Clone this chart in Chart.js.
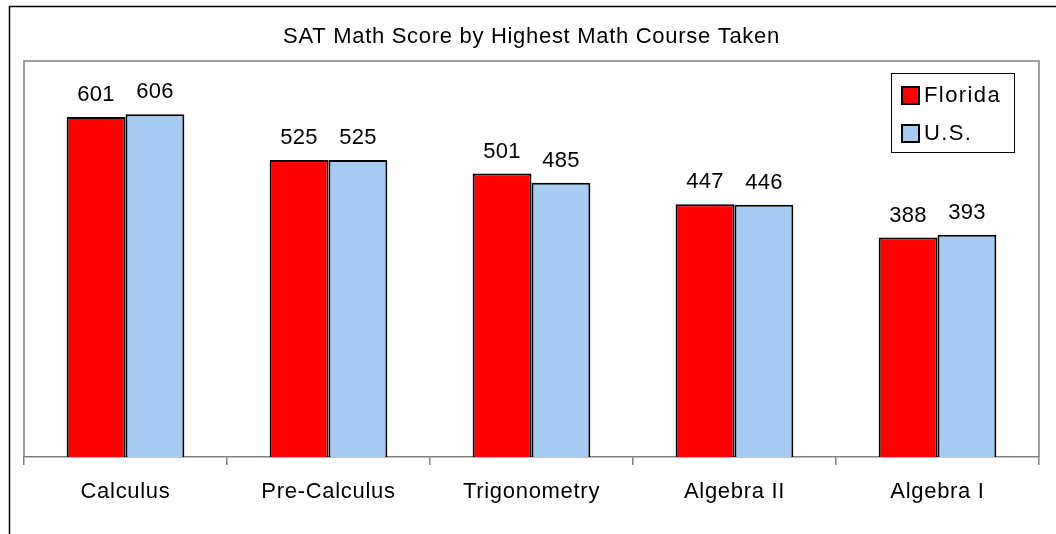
<!DOCTYPE html>
<html>
<head>
<meta charset="utf-8">
<script src="https://cdn.jsdelivr.net/npm/chart.js@4/dist/chart.umd.min.js"></script>
<style>
  html, body { margin: 0; padding: 0; background: #ffffff; }
  canvas { display: block; }
</style>
</head>
<body>
<canvas id="c" width="1056" height="534"></canvas>
<script>
const categories = ['Calculus', 'Pre-Calculus', 'Trigonometry', 'Algebra II', 'Algebra I'];
const floridaScores = [601, 525, 501, 447, 388];
const usScores = [606, 525, 485, 446, 393];
const seriesNames = ['Florida', 'U.S.'];
const seriesColors = ['#FF0000', '#A6CAF0'];
const yMin = 0;
const yMax = 700;
const titleText = 'SAT Math Score by Highest Math Course Taken';

const FONT = "'Liberation Sans', Arial, sans-serif";

const framePlugin = {
  id: 'frame',
  beforeDraw(chart) {
    const ctx = chart.ctx;
    ctx.save();
    ctx.fillStyle = '#ffffff';
    ctx.fillRect(0, 0, chart.width, chart.height);
    ctx.strokeStyle = '#000000';
    ctx.lineWidth = 1.5;
    ctx.strokeRect(9.5, 6.5, chart.width + 50, chart.height + 50);
    const a = chart.chartArea;
    ctx.strokeStyle = '#808080';
    ctx.lineWidth = 1.5;
    ctx.beginPath();
    ctx.moveTo(a.left, a.bottom);
    ctx.lineTo(a.left, a.top);
    ctx.lineTo(a.right, a.top);
    ctx.lineTo(a.right, a.bottom);
    ctx.stroke();
    ctx.restore();
    ctx.letterSpacing = '0.7px';
  }
};

const labelPlugin = {
  id: 'valueLabels',
  afterDatasetsDraw(chart) {
    const ctx = chart.ctx;
    ctx.save();
    ctx.letterSpacing = '0.3px';
    ctx.font = '22px ' + FONT;
    ctx.fillStyle = '#000000';
    ctx.textAlign = 'center';
    ctx.textBaseline = 'alphabetic';
    chart.data.datasets.forEach((ds, di) => {
      const meta = chart.getDatasetMeta(di);
      meta.data.forEach((el, i) => {
        ctx.fillText(String(ds.data[i]), el.x, el.y - 16);
      });
    });
    ctx.restore();
  }
};

const legendPlugin = {
  id: 'boxLegend',
  afterDraw(chart) {
    const ctx = chart.ctx;
    const a = chart.chartArea;
    const boxW = 123, boxH = 79;
    const x0 = a.right - 25 - boxW;
    const y0 = a.top + 12;
    ctx.save();
    ctx.fillStyle = '#ffffff';
    ctx.fillRect(x0, y0, boxW, boxH);
    ctx.strokeStyle = '#000000';
    ctx.lineWidth = 1;
    ctx.strokeRect(x0 + 0.5, y0 + 0.5, boxW, boxH);
    ctx.font = '22px ' + FONT;
    ctx.letterSpacing = '1.4px';
    ctx.textAlign = 'left';
    ctx.textBaseline = 'middle';
    chart.data.datasets.forEach((ds, i) => {
      const cy = y0 + 22 + i * 38;
      ctx.fillStyle = ds.backgroundColor;
      ctx.fillRect(x0 + 11, cy - 8, 17, 17);
      ctx.strokeStyle = '#000000';
      ctx.lineWidth = 2;
      ctx.strokeRect(x0 + 11, cy - 8, 17, 17);
      ctx.fillStyle = '#000000';
      ctx.fillText(ds.label, x0 + 33, cy + 1);
    });
    ctx.restore();
  }
};

new Chart(document.getElementById('c'), {
  type: 'bar',
  data: {
    labels: categories,
    datasets: [
      { label: seriesNames[0], data: floridaScores, backgroundColor: seriesColors[0], borderColor: '#000000', borderWidth: 2 },
      { label: seriesNames[1], data: usScores, backgroundColor: seriesColors[1], borderColor: '#000000', borderWidth: 2 }
    ]
  },
  options: {
    responsive: false,
    devicePixelRatio: 1,
    animation: false,
    categoryPercentage: 0.58,
    barPercentage: 1.0,
    layout: { padding: { left: 24, right: 17, top: 0, bottom: 0 } },
    plugins: {
      legend: { display: false },
      tooltip: { enabled: false },
      title: {
        display: true,
        text: titleText,
        color: '#000000',
        font: { family: FONT, size: 22, weight: 'normal', lineHeight: 1.2 },
        padding: { top: 24, bottom: 10.6 }
      }
    },
    scales: {
      x: {
        offset: true,
        grid: { drawOnChartArea: false, drawTicks: true, tickLength: 8, color: '#808080', offset: true, lineWidth: 1.5 },
        border: { display: true, color: '#808080', width: 1.5 },
        ticks: { color: '#000000', font: { family: FONT, size: 22 }, padding: 14, maxRotation: 0, autoSkip: false },
        afterFit(scale) { scale.height = 77; }
      },
      y: {
        display: false,
        min: yMin,
        max: yMax
      }
    }
  },
  plugins: [framePlugin, labelPlugin, legendPlugin]
});
</script>
</body>
</html>
